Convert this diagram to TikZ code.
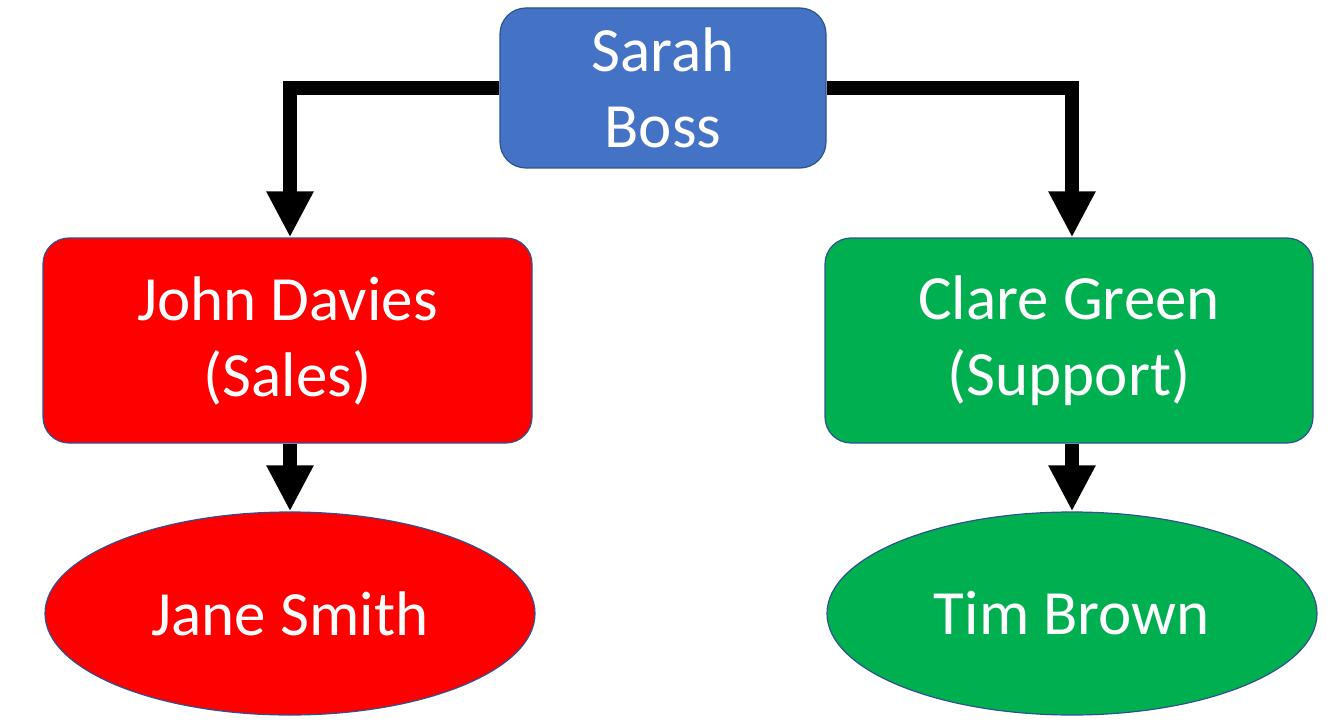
\documentclass[tikz,border=0pt]{standalone}
\usepackage{fontspec}
\setmainfont{Carlito}
\usetikzlibrary{shapes.geometric,arrows.meta}
\definecolor{cblue}{HTML}{4472C4}
\definecolor{cred}{HTML}{FF0000}
\definecolor{cgreen}{HTML}{00B050}
\definecolor{cedge}{HTML}{2F528F}
\begin{document}
\begin{tikzpicture}[x=1pt,y=-1pt,
  box/.style={draw=cedge,line width=1.2pt,rounded corners=26pt,text=white,align=center,
    font=\fontsize{63}{76}\selectfont,inner sep=0pt},
  oval/.style={ellipse,draw=cedge,line width=1.2pt,text=white,align=center,
    font=\fontsize{63}{76}\selectfont,inner sep=0pt,minimum width=490pt,minimum height=203pt},
  conn/.style={line width=14pt,-{Triangle[length=46pt,width=44pt]}}]
\useasboundingbox (0,0) rectangle (1341,722);
\node[box,fill=cblue,minimum width=326pt,minimum height=160pt] (sarah) at (663,88) {Sarah\\Boss};
\node[box,fill=cred,minimum width=489pt,minimum height=205pt] (john) at (287.5,340.5) {John Davies\\(Sales)};
\node[box,fill=cgreen,minimum width=488pt,minimum height=205pt] (clare) at (1069,340.5) {Clare Green\\(Support)};
\node[oval,fill=cred] (jane) at (290,613.5) {Jane Smith};
\node[oval,fill=cgreen] (tim) at (1072,613.5) {Tim Brown};
\draw[conn] (sarah.west) -| (jane.north |- john.north);
\draw[conn] (sarah.east) -| (tim.north |- clare.north);
\draw[conn] (jane.north |- john.south) -- (jane.north);
\draw[conn] (tim.north |- clare.south) -- (tim.north);
\end{tikzpicture}
\end{document}
